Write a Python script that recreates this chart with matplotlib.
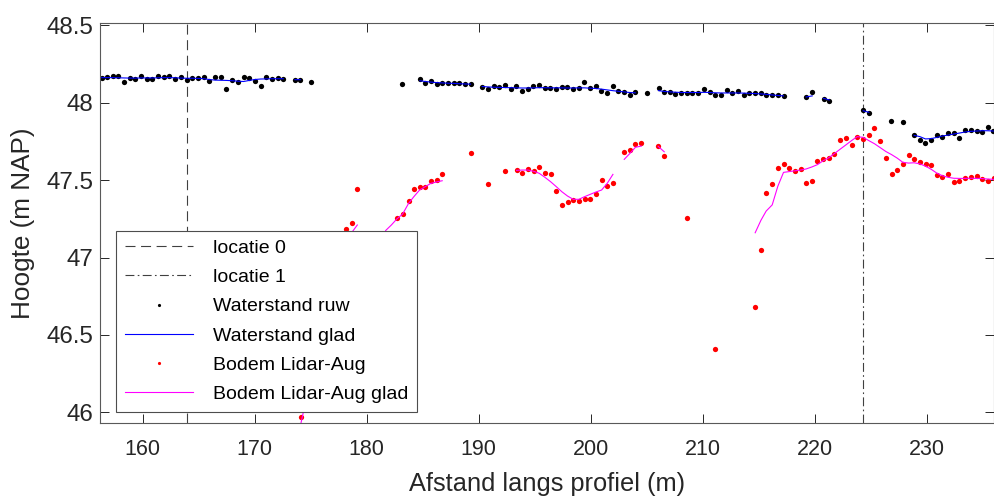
import numpy as np
import matplotlib
matplotlib.use('Agg')
import matplotlib.pyplot as plt
from matplotlib.ticker import FuncFormatter

matplotlib.rcParams['font.family'] = ['Liberation Sans', 'DejaVu Sans']

nan = np.nan

# locaties (m langs profiel)
loc0 = 163.93
loc1 = 224.3

# waterstand ruw
wr_x = [156.34, 156.84, 157.32, 157.83, 158.33, 158.87, 159.34, 159.85, 160.35, 160.86,
        161.40, 161.90, 162.38, 162.91, 163.42, 163.92, 164.43, 164.94, 165.44, 165.95,
        166.45, 166.96, 167.47, 168.00, 168.51, 169.01, 169.52, 170.02, 170.53, 171.04,
        171.54, 172.05, 172.55, 173.59, 174.07, 175.05, 183.17,
        184.75, 185.23, 185.73, 186.24, 186.74, 187.25, 187.76, 188.26, 188.77, 189.27,
        190.31, 190.82, 191.33, 191.83, 192.34, 192.84, 193.35, 193.85, 194.36, 194.87,
        195.37, 195.88, 196.38, 196.89, 197.40, 197.90, 198.41, 198.91, 199.42, 199.92,
        200.43, 200.94, 201.44, 201.95, 202.45, 202.96, 203.47, 203.97, 204.98,
        206.05, 206.53, 207.04, 207.54, 208.08, 208.58, 209.08, 209.58, 210.10, 210.63,
        211.11, 211.62, 212.12, 212.63, 213.16, 213.67, 214.15, 214.68, 215.19, 215.69,
        216.20, 216.70, 217.21, 219.23, 219.77, 220.78, 221.29, 224.32, 224.83,
        226.82, 227.86, 228.87, 229.38, 229.88, 230.39, 230.90, 231.40, 231.91, 232.42,
        232.92, 233.43, 233.93, 234.44, 234.94, 235.45, 235.93]
wr_y = [48.157, 48.164, 48.175, 48.175, 48.132, 48.157, 48.155, 48.172, 48.155, 48.153,
        48.172, 48.166, 48.172, 48.153, 48.166, 48.147, 48.162, 48.162, 48.164, 48.142,
        48.168, 48.168, 48.086, 48.147, 48.136, 48.164, 48.159, 48.142, 48.106, 48.166,
        48.151, 48.157, 48.153, 48.147, 48.149, 48.134, 48.123,
        48.151, 48.129, 48.142, 48.121, 48.127, 48.127, 48.127, 48.125, 48.121, 48.121,
        48.099, 48.091, 48.106, 48.099, 48.114, 48.086, 48.108, 48.073, 48.086, 48.106,
        48.112, 48.097, 48.095, 48.091, 48.103, 48.099, 48.088, 48.095, 48.134, 48.095,
        48.106, 48.078, 48.060, 48.106, 48.078, 48.067, 48.048, 48.071, 48.063,
        48.093, 48.071, 48.069, 48.054, 48.065, 48.065, 48.065, 48.065, 48.086, 48.071,
        48.048, 48.048, 48.080, 48.065, 48.076, 48.048, 48.065, 48.063, 48.063, 48.048,
        48.048, 48.048, 48.043, 48.035, 48.067, 48.024, 48.009, 47.953, 47.936,
        47.884, 47.877, 47.789, 47.757, 47.742, 47.757, 47.791, 47.776, 47.802, 47.802,
        47.770, 47.821, 47.824, 47.815, 47.811, 47.845, 47.815]

# waterstand glad (nan = onderbreking)
wg_x = [156.34, 156.84, 157.32, 157.83, 158.33, 158.87, 159.34, 159.85, 160.35, 160.86,
        161.40, 161.90, 162.38, 162.91, 163.42, 163.92, 164.43, 164.94, 165.44, 165.95,
        166.45, 166.96, 167.47, 168.00, 168.51, 169.01, 169.52, 170.02, 170.53, 171.04,
        171.54, 172.05, 172.55, nan, 173.59, 174.07, nan,
        184.75, 185.23, 185.73, 186.24, 186.74, 187.25, 187.76, 188.26, 188.77, 189.27, nan,
        190.31, 190.82, 191.33, 191.83, 192.34, 192.84, 193.35, 193.85, 194.36, 194.87,
        195.37, 195.88, 196.38, 196.89, 197.40, 197.90, 198.41, 198.91, 199.42, 199.92,
        200.43, 200.94, 201.44, 201.95, 202.45, 202.96, 203.47, 203.97, nan,
        206.05, 206.53, 207.04, 207.54, 208.08, 208.58, 209.08, 209.58, 210.10, 210.63,
        211.11, 211.62, 212.12, 212.63, 213.16, 213.67, 214.15, 214.68, 215.19, 215.69,
        216.20, 216.70, 217.21, nan, 219.23, 219.77, nan, 220.78, 221.29, nan,
        224.32, 224.83, nan,
        228.87, 229.38, 229.88, 230.39, 230.90, 231.40, 231.91, 232.42,
        232.92, 233.43, 233.93, 234.44, 234.94, 235.45, 235.93]
wg_y = [48.162, 48.162, 48.162, 48.161, 48.160, 48.159, 48.159, 48.160, 48.160, 48.160,
        48.161, 48.162, 48.162, 48.161, 48.159, 48.158, 48.158, 48.157, 48.155, 48.150,
        48.146, 48.145, 48.144, 48.142, 48.139, 48.137, 48.144, 48.150, 48.153, 48.154,
        48.155, 48.155, 48.155, nan, 48.149, 48.149, nan,
        48.142, 48.137, 48.133, 48.130, 48.128, 48.126, 48.125, 48.123, 48.121, 48.120, nan,
        48.105, 48.102, 48.100, 48.099, 48.098, 48.097, 48.096, 48.095, 48.095, 48.096,
        48.097, 48.097, 48.096, 48.096, 48.096, 48.095, 48.095, 48.096, 48.096, 48.094,
        48.092, 48.088, 48.083, 48.078, 48.074, 48.070, 48.066, 48.064, nan,
        48.078, 48.073, 48.070, 48.068, 48.066, 48.066, 48.066, 48.066, 48.067, 48.066,
        48.064, 48.063, 48.063, 48.063, 48.063, 48.062, 48.061, 48.059, 48.057, 48.054,
        48.050, 48.047, 48.044, nan, 48.037, 48.044, nan, 48.028, 48.018, nan,
        47.948, 47.938, nan,
        47.789, 47.781, 47.766, 47.768, 47.776, 47.785, 47.791, 47.798,
        47.804, 47.811, 47.815, 47.817, 47.819, 47.819, 47.817]

# bodem lidar-aug ruw
br_x = [174.13, 174.64, 175.15, 175.65, 176.16, 176.66, 177.17, 177.67, 178.15, 178.65, 179.16,
        180.18, 180.69, 181.19, 181.70, 182.20, 182.70, 183.20, 183.74, 184.21, 184.72,
        185.23, 185.73, 186.24, 186.74, 189.27, 190.82, 192.34,
        193.38, 193.88, 194.39, 194.90, 195.40, 195.91, 196.41, 196.92, 197.42, 197.93,
        198.44, 198.94, 199.45, 199.95, 200.46, 200.97, 201.47, 201.98,
        202.99, 203.49, 203.99, 204.51, 206.02, 206.56, 208.58, 211.10,
        214.68, 215.19, 215.66, 216.20, 216.70, 217.21, 217.72, 218.22, 218.73, 219.23,
        219.74, 220.24, 220.75, 221.26, 221.76, 222.27, 222.77, 223.28, 223.79, 224.32,
        224.83, 225.33, 225.84, 226.34, 226.85, 227.36, 227.86, 228.37, 228.87, 229.38,
        229.89, 230.39, 230.90, 231.40, 231.91, 232.41, 232.92, 233.43, 233.93, 234.44,
        234.94, 235.45, 235.96]
br_y = [45.97, 46.12, 46.30, 46.48, 46.66, 46.82, 46.98, 47.08, 47.186, 47.221, 47.445,
        46.92, 47.02, 47.10, 47.15, 47.13, 47.253, 47.279, 47.367, 47.442, 47.455,
        47.455, 47.492, 47.498, 47.539, 47.677, 47.475, 47.559,
        47.565, 47.548, 47.570, 47.559, 47.582, 47.546, 47.539, 47.427, 47.341, 47.361,
        47.371, 47.367, 47.378, 47.380, 47.408, 47.503, 47.462, 47.483,
        47.684, 47.692, 47.731, 47.737, 47.719, 47.656, 47.255, 46.409,
        46.680, 47.048, 47.419, 47.477, 47.578, 47.606, 47.580, 47.557, 47.569, 47.483,
        47.494, 47.625, 47.634, 47.641, 47.671, 47.757, 47.774, 47.727, 47.781, 47.763,
        47.793, 47.834, 47.755, 47.641, 47.537, 47.565, 47.606, 47.660, 47.638, 47.617,
        47.604, 47.595, 47.533, 47.520, 47.539, 47.490, 47.494, 47.514, 47.520, 47.529,
        47.507, 47.494, 47.516]

# bodem lidar-aug glad
bg_x = [174.13, 174.64, 175.15, 175.65, 176.16, 176.66, 177.17, 177.67, 178.15, 178.65, 179.16, nan,
        180.18, 180.69, 181.19, 181.70, 182.20, 182.70, 183.20, 183.74, 184.21, 184.72,
        185.23, 185.73, 186.24, 186.74, nan,
        193.38, 193.88, 194.39, 194.90, 195.40, 195.91, 196.41, 196.92, 197.42, 197.93,
        198.44, 198.94, 199.45, 199.95, 200.46, 200.97, 201.47, 201.98, nan,
        202.99, 203.49, 203.99, 204.51, nan, 206.02, 206.56, nan,
        214.68, 215.19, 215.66, 216.20, 216.70, 217.21, 217.72, 218.22, 218.73, 219.23,
        219.74, 220.24, 220.75, 221.26, 221.76, 222.27, 222.77, 223.28, 223.79, 224.32,
        224.83, 225.33, 225.84, 226.34, 226.85, 227.36, 227.86, 228.37, 228.87, 229.38,
        229.89, 230.39, 230.90, 231.40, 231.91, 232.41, 232.92, 233.43, 233.93, 234.44,
        234.94, 235.45, 235.96]
bg_y = [45.93, 46.10, 46.28, 46.46, 46.63, 46.78, 46.92, 47.03, 47.11, 47.16, 47.21, nan,
        46.90, 47.00, 47.09, 47.175, 47.21, 47.25, 47.28, 47.35, 47.393, 47.436,
        47.458, 47.479, 47.488, 47.496, nan,
        47.563, 47.565, 47.565, 47.557, 47.544, 47.518, 47.490, 47.458, 47.425, 47.397,
        47.376, 47.376, 47.393, 47.408, 47.423, 47.436, 47.479, 47.537, nan,
        47.634, 47.672, 47.712, 47.720, nan, 47.718, 47.683, nan,
        47.16, 47.24, 47.30, 47.34, 47.46, 47.55, 47.555, 47.56, 47.565, 47.572,
        47.585, 47.60, 47.625, 47.645, 47.672, 47.70, 47.727, 47.755, 47.781, 47.776,
        47.755, 47.735, 47.71, 47.685, 47.665, 47.642, 47.615, 47.61, 47.612, 47.605,
        47.59, 47.57, 47.545, 47.528, 47.518, 47.512, 47.511, 47.511, 47.512, 47.511,
        47.510, 47.507, 47.505]

txt = (0.15, 0.15, 0.15)

fig = plt.figure(figsize=(9.94, 4.99), dpi=100)
ax = fig.add_axes([100/994, 75.7/499, 894/994, 400/499])

ax.axvline(loc0, color='0.25', ls=(0, (9, 5)), lw=0.8, label='locatie 0')
ax.axvline(loc1, color='0.25', ls=(0, (8, 3, 1.5, 3)), lw=0.8, label='locatie 1')
ax.plot(wr_x, wr_y, 'o', color='k', ms=3.8, mec='none', label='Waterstand ruw')
ax.plot(wg_x, wg_y, '-', color='#0000ff', lw=0.8, label='Waterstand glad')
ax.plot(br_x, br_y, 'o', color='#ff0000', ms=3.8, mec='none', label='Bodem Lidar-Aug')
ax.plot(bg_x, bg_y, '-', color='#ff00ff', lw=0.8, label='Bodem Lidar-Aug glad')

ax.set_xlim(156.19, 236.0)
ax.set_ylim(45.929, 48.513)
ax.set_xticks([160, 170, 180, 190, 200, 210, 220, 230])
ax.set_yticks([46, 46.5, 47, 47.5, 48, 48.5])
ax.yaxis.set_major_formatter(FuncFormatter(lambda v, p: '%g' % v))
ax.tick_params(direction='in', length=6.5, width=0.7, colors=txt,
               top=True, right=True)
ax.tick_params(axis='y', pad=5, labelsize=17.4)
ax.tick_params(axis='x', pad=11, labelsize=15.5)
for s in ax.spines.values():
    s.set_color('0.35')
    s.set_linewidth(0.8)

ax.set_xlabel('Afstand langs profiel (m)', fontsize=18.3, color=txt)
ax.xaxis.set_label_coords(0.5, -0.122)
ax.set_ylabel('Hoogte (m NAP)', fontsize=18.8, color=txt, labelpad=8)

leg = ax.legend(loc='lower left', bbox_to_anchor=(116/994, 87/499),
                bbox_transform=fig.transFigure, fontsize=14, frameon=True,
                fancybox=False, framealpha=1, edgecolor='0.3', markerscale=0.6,
                handlelength=3.5, labelspacing=0.6, borderpad=0.45,
                borderaxespad=0, handletextpad=1.05)
leg.get_frame().set_linewidth(0.8)
for t in leg.get_texts():
    t.set_color('k')

fig.savefig('out.png', dpi=100)
